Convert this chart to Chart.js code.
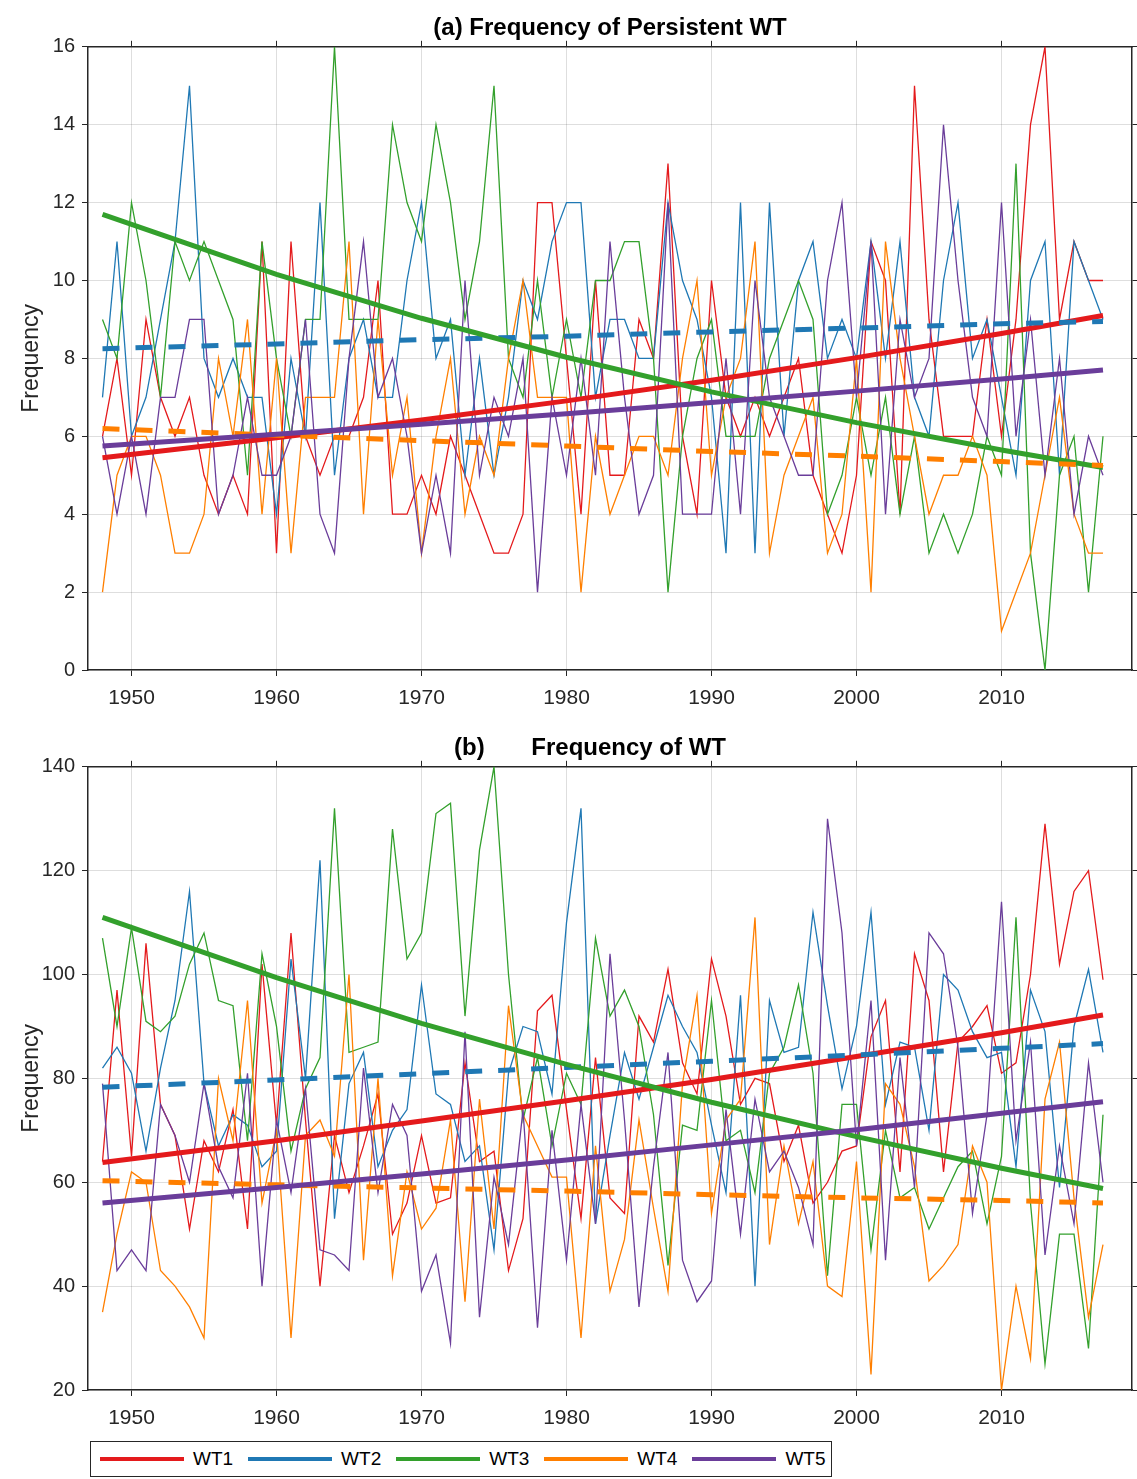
<!DOCTYPE html>
<html>
<head>
<meta charset="utf-8">
<script src="https://cdn.jsdelivr.net/npm/chart.js@4.4.1/dist/chart.umd.min.js"></script>
<style>
  body { margin: 0; background: #fff; width: 1137px; height: 1479px; position: relative; overflow: hidden;
         font-family: "Liberation Sans", Arial, sans-serif; }
  .panel { position: absolute; left: 0; width: 1137px; height: 720px; }
  #legend { position: absolute; left: 90px; top: 1441px; width: 742px; height: 36px; box-sizing: border-box;
            border: 1px solid #262626; display: flex; align-items: center; padding-left: 9px; }
  .item { display: flex; align-items: center; margin-right: 15px; }
  .swatch { width: 84px; height: 4px; margin-right: 9px; }
  .item span { font-size: 19px; color: #000; }
</style>
</head>
<body>
<div class="panel" style="top:0"><canvas id="chartA"></canvas></div>
<div class="panel" style="top:720px"><canvas id="chartB"></canvas></div>
<div id="legend"></div>

<script>
// Years on the x axis
const years = [1948, 1949, 1950, 1951, 1952, 1953, 1954, 1955, 1956, 1957, 1958, 1959,
               1960, 1961, 1962, 1963, 1964, 1965, 1966, 1967, 1968, 1969, 1970, 1971,
               1972, 1973, 1974, 1975, 1976, 1977, 1978, 1979, 1980, 1981, 1982, 1983,
               1984, 1985, 1986, 1987, 1988, 1989, 1990, 1991, 1992, 1993, 1994, 1995,
               1996, 1997, 1998, 1999, 2000, 2001, 2002, 2003, 2004, 2005, 2006, 2007,
               2008, 2009, 2010, 2011, 2012, 2013, 2014, 2015, 2016, 2017];
const xTicks = [1950, 1960, 1970, 1980, 1990, 2000, 2010];
const seriesNames = ['WT1', 'WT2', 'WT3', 'WT4', 'WT5'];
const seriesColors = ['#e41a1c', '#1f78b4', '#33a02c', '#ff7f00', '#6a3d9a'];

// (a) Frequency of persistent WT
const persistWT1 = [6, 8, 5, 9, 7, 6, 7, 5, 4, 5, 4, 11,
                    3, 11, 6, 5, 6, 6, 7, 10, 4, 4, 5, 4,
                    6, 5, 4, 3, 3, 4, 12, 12, 8, 4, 10, 5,
                    5, 9, 8, 13, 6, 4, 10, 7, 6, 7, 6, 7,
                    8, 5, 4, 3, 5, 11, 10, 4, 15, 9, 6, 6,
                    6, 9, 6, 9, 14, 16, 9, 11, 10, 10];
const persistWT2 = [7, 11, 6, 7, 9, 11, 15, 8, 7, 8, 7, 7,
                    4, 8, 6, 12, 5, 8, 9, 7, 7, 10, 12, 8,
                    9, 5, 8, 5, 7, 10, 9, 11, 12, 12, 7, 9,
                    9, 8, 8, 12, 10, 9, 7, 3, 12, 3, 12, 6,
                    10, 11, 8, 9, 8, 11, 8, 11, 7, 6, 10, 12,
                    8, 9, 7, 5, 10, 11, 5, 11, 10, 9];
const persistWT3 = [9, 8, 12, 10, 7, 11, 10, 11, 10, 9, 5, 11,
                    8, 6, 9, 9, 16, 9, 9, 9, 14, 12, 11, 14,
                    12, 9, 11, 15, 8, 7, 10, 7, 9, 7, 10, 10,
                    11, 11, 8, 2, 6, 8, 9, 6, 6, 6, 8, 9,
                    10, 9, 4, 5, 7, 5, 7, 4, 6, 3, 4, 3,
                    4, 6, 5, 13, 3, 0, 5, 6, 2, 6];
const persistWT4 = [2, 5, 6, 6, 5, 3, 3, 4, 8, 6, 9, 4,
                    8, 3, 7, 7, 7, 11, 4, 9, 5, 7, 3, 6,
                    8, 4, 6, 5, 8, 10, 7, 7, 7, 2, 6, 4,
                    5, 6, 6, 5, 8, 10, 5, 7, 8, 11, 3, 5,
                    6, 7, 3, 4, 8, 2, 11, 8, 6, 4, 5, 5,
                    6, 5, 1, 2, 3, 5, 7, 4, 3, 3];
const persistWT5 = [6, 4, 6, 4, 7, 7, 9, 9, 4, 5, 7, 5,
                    5, 6, 9, 4, 3, 8, 11, 7, 8, 6, 3, 5,
                    3, 10, 5, 7, 6, 8, 2, 7, 5, 8, 5, 11,
                    7, 4, 5, 12, 4, 4, 4, 8, 4, 10, 7, 6,
                    5, 5, 10, 12, 7, 11, 4, 9, 7, 8, 14, 10,
                    7, 6, 12, 6, 9, 5, 8, 4, 6, 5];

// (b) Frequency of WT
const freqWT1 = [64, 97, 65, 106, 75, 69, 51, 68, 62, 74, 51, 102,
                 71, 108, 72, 40, 69, 58, 67, 77, 50, 56, 69, 56,
                 57, 83, 64, 66, 43, 53, 93, 96, 74, 53, 84, 57,
                 54, 92, 87, 101, 83, 77, 103, 92, 75, 80, 79, 64,
                 71, 56, 60, 66, 67, 88, 95, 62, 104, 95, 62, 87,
                 90, 94, 81, 83, 100, 129, 102, 116, 120, 99];
const freqWT2 = [82, 86, 81, 66, 82, 95, 116, 79, 67, 73, 71, 63,
                 66, 103, 80, 122, 53, 79, 85, 63, 70, 74, 98, 77,
                 75, 64, 67, 47, 81, 90, 89, 77, 110, 132, 52, 69,
                 85, 76, 86, 96, 90, 85, 71, 58, 96, 40, 95, 85,
                 86, 112, 94, 78, 90, 112, 75, 87, 86, 70, 100, 97,
                 89, 84, 85, 63, 97, 89, 59, 90, 101, 85];
const freqWT3 = [107, 90, 109, 91, 89, 92, 102, 108, 95, 94, 68, 104,
                 90, 66, 78, 84, 132, 85, 86, 87, 128, 103, 108, 131,
                 133, 92, 124, 140, 100, 72, 84, 67, 81, 75, 107, 92,
                 97, 90, 73, 44, 71, 70, 95, 68, 70, 58, 81, 86,
                 98, 81, 42, 75, 75, 47, 70, 57, 59, 51, 57, 63,
                 66, 52, 65, 111, 56, 25, 50, 50, 28, 73];
const freqWT4 = [35, 50, 62, 60, 43, 40, 36, 30, 80, 68, 95, 56,
                 70, 30, 69, 72, 65, 100, 45, 80, 42, 62, 51, 55,
                 72, 37, 76, 51, 94, 73, 67, 61, 61, 30, 67, 39,
                 49, 72, 55, 39, 79, 96, 54, 72, 76, 111, 48, 67,
                 52, 64, 40, 38, 64, 23, 79, 75, 63, 41, 44, 48,
                 67, 60, 20, 40, 26, 76, 87, 57, 34, 48];
const freqWT5 = [79, 43, 47, 43, 75, 69, 60, 79, 63, 57, 81, 40,
                 72, 58, 78, 47, 46, 43, 82, 58, 75, 69, 39, 46,
                 29, 89, 34, 61, 48, 74, 32, 70, 45, 75, 52, 104,
                 72, 36, 63, 85, 45, 37, 41, 74, 50, 76, 62, 66,
                 59, 48, 130, 108, 67, 95, 45, 84, 59, 108, 104, 86,
                 54, 73, 114, 68, 87, 46, 67, 52, 83, 60];

// Fitted trend curves, read at these years
const trendYears = [1948, 1960, 1970, 1980, 1990, 2000, 2010, 2017];
const persistTrendWT1 = [5.45, 5.96, 6.42, 6.91, 7.44, 8.02, 8.64, 9.1];
const persistTrendWT2 = [8.25, 8.37, 8.48, 8.57, 8.68, 8.78, 8.89, 8.95];
const persistTrendWT3 = [11.7, 10.16, 9.03, 8.03, 7.14, 6.35, 5.65, 5.2];
const persistTrendWT4 = [6.2, 6.03, 5.89, 5.75, 5.61, 5.49, 5.35, 5.25];
const persistTrendWT5 = [5.75, 6.05, 6.31, 6.58, 6.87, 7.16, 7.47, 7.7];
const freqTrendWT1 = [63.8, 68.0, 71.8, 75.7, 79.8, 84.2, 88.8, 92.2];
const freqTrendWT2 = [78.3, 79.7, 80.9, 82.1, 83.3, 84.5, 85.8, 86.7];
const freqTrendWT3 = [111, 99.4, 90.6, 82.7, 75.4, 68.8, 62.7, 58.8];
const freqTrendWT4 = [60.3, 59.5, 58.9, 58.3, 57.6, 57.0, 56.5, 56.0];
const freqTrendWT5 = [56.0, 59.0, 61.6, 64.3, 67.2, 70.1, 73.3, 75.5];
const dashedTrend = [false, true, false, true, false];

const axisColor = '#262626';
const gridColor = 'rgba(0, 0, 0, 0.13)';

function buildPanel(canvasId, titleText, yMin, yMax, yStep, values, trends) {
    const datasets = [];
    // thin yearly lines
    values.forEach((vals, i) => {
        datasets.push({
            label: seriesNames[i],
            data: years.map((yr, k) => ({ x: yr, y: vals[k] })),
            borderColor: seriesColors[i],
            borderWidth: 1.3,
            pointRadius: 0,
            tension: 0,
            order: 20 - i
        });
    });
    // thick trend lines on top
    trends.forEach((vals, i) => {
        datasets.push({
            label: seriesNames[i] + ' trend',
            data: trendYears.map((yr, k) => ({ x: yr, y: vals[k] })),
            borderColor: seriesColors[i],
            borderWidth: 5,
            borderDash: dashedTrend[i] ? [17, 16] : [],
            pointRadius: 0,
            tension: 0,
            order: 10 - i
        });
    });

    const setXTicks = s => { s.ticks = xTicks.map(v => ({ value: v })); };

    return new Chart(document.getElementById(canvasId), {
        type: 'line',
        data: { datasets: datasets },
        options: {
            animation: false,
            responsive: true,
            maintainAspectRatio: false,
            layout: { padding: 0 },
            scales: {
                x: {
                    type: 'linear', position: 'bottom', min: 1947, max: 2019,
                    afterBuildTicks: setXTicks,
                    afterFit: s => { s.height = 50; },
                    grid: { color: gridColor, tickColor: axisColor, tickLength: 6 },
                    border: { color: axisColor, width: 1.5 },
                    ticks: { color: axisColor, font: { size: 21 }, padding: 10, maxRotation: 0,
                             callback: v => String(v) }
                },
                x2: {
                    type: 'linear', position: 'top', min: 1947, max: 2019,
                    afterBuildTicks: setXTicks,
                    afterFit: s => { s.height = 0; },
                    grid: { drawOnChartArea: false, tickColor: axisColor, tickLength: 6 },
                    border: { color: axisColor, width: 1.5 },
                    ticks: { display: false }
                },
                y: {
                    position: 'left', min: yMin, max: yMax,
                    afterFit: s => { s.width = 88; },
                    grid: { color: gridColor, tickColor: axisColor, tickLength: 6 },
                    border: { color: axisColor, width: 1.5 },
                    ticks: { stepSize: yStep, color: axisColor, font: { size: 20 }, padding: 7 },
                    title: { display: true, text: 'Frequency', color: axisColor, font: { size: 23 },
                             padding: { top: 18, bottom: 0 } }
                },
                y2: {
                    position: 'right', min: yMin, max: yMax,
                    afterFit: s => { s.width = 5; },
                    grid: { drawOnChartArea: false, tickColor: axisColor, tickLength: 6 },
                    border: { color: axisColor, width: 1.5 },
                    ticks: { stepSize: yStep, display: false }
                }
            },
            plugins: {
                legend: { display: false },
                tooltip: { enabled: false },
                title: {
                    display: true,
                    text: titleText,
                    fullSize: false,
                    color: '#000',
                    font: { size: 24, weight: 'bold' },
                    padding: { top: 14, bottom: 4 }
                }
            }
        }
    });
}

buildPanel('chartA', '(a) Frequency of Persistent WT', 0, 16, 2,
    [persistWT1, persistWT2, persistWT3, persistWT4, persistWT5],
    [persistTrendWT1, persistTrendWT2, persistTrendWT3, persistTrendWT4, persistTrendWT5]);

buildPanel('chartB', '(b)       Frequency of WT      ', 20, 140, 20,
    [freqWT1, freqWT2, freqWT3, freqWT4, freqWT5],
    [freqTrendWT1, freqTrendWT2, freqTrendWT3, freqTrendWT4, freqTrendWT5]);

// legend below the panels
const legend = document.getElementById('legend');
seriesNames.forEach((name, i) => {
    const item = document.createElement('div');
    item.className = 'item';
    item.innerHTML = '<div class="swatch" style="background:' + seriesColors[i] + '"></div><span>' + name + '</span>';
    legend.appendChild(item);
});
</script>
</body>
</html>
